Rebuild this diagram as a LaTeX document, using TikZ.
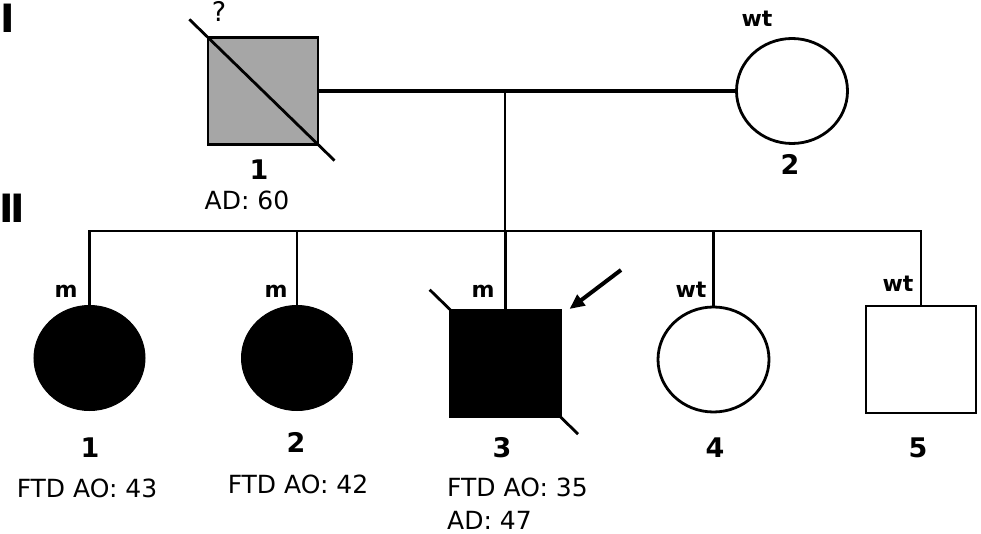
\documentclass[tikz,border=0pt]{standalone}
\usepackage{fontspec}
\setmainfont{DejaVu Sans}
\usetikzlibrary{shapes.geometric,calc,arrows.meta}
\definecolor{pedgray}{RGB}{166,166,166}
\begin{document}
\begin{tikzpicture}[x=1pt,y=-1pt,
 male/.style={rectangle,draw,line width=2.8pt,minimum width=110pt,minimum height=107pt,inner sep=0pt,outer sep=0pt},
 female/.style={ellipse,draw,line width=2.8pt,minimum width=111pt,minimum height=105pt,inner sep=0pt,outer sep=0pt},
 affected/.style={fill=black,line width=1pt},
 link/.style={line width=2.8pt},
 gen/.style={font=\fontsize{39}{42}\selectfont\bfseries,anchor=base,inner sep=0pt},
 geno/.style={font=\fontsize{22}{26}\selectfont\bfseries,anchor=base,inner sep=0pt},
 idn/.style={font=\fontsize{27}{30}\selectfont\bfseries,anchor=base,inner sep=0pt},
 info/.style={font=\fontsize{25}{30}\selectfont,anchor=base,inner sep=0pt},
]
\useasboundingbox (0,0) rectangle (981,534);
\fill[white] (0,0) rectangle (981,534);

% individuals
\node[male,fill=pedgray] (I1) at (263,91) {};
\node[female] (I2) at (792,91) {};
\node[female,affected] (II1) at (89.5,358) {};
\node[female,affected] (II2) at (297,358) {};
\node[male,fill=black] (II3) at (505.5,363.5) {};
\node[female] (II4) at (713.5,359.5) {};
\node[male] (II5) at (921,359.5) {};

% lines of descent
\coordinate (d) at (505,92);
\coordinate (s) at (505,231);
\draw[line width=4pt] (I1.east) -- (I2.west);
\draw[link] (d) -- (s);
\draw[link] (II1.north) -- (II1.north |- s) -- (II5.north |- s) -- (II5.north);
\draw[link] (II2.north) -- (II2.north |- s);
\draw[link] (II3.north) -- (II3.north |- s);
\draw[link] (II4.north) -- (II4.north |- s);

% diagonal on I-1
\draw[link] ($(I1.north west)!-0.17!(I1.south east)$) -- ($(I1.north west)!1.15!(I1.south east)$);
% ticks on II-3
\draw[link] ($(II3.north west)!-0.19!(II3.south east)$) -- (II3.north west);
\draw[link] (II3.south east) -- ($(II3.north west)!1.16!(II3.south east)$);
% proband arrow
\coordinate (arr) at (621,270);
\draw[line width=4pt,-{Triangle[length=15pt,width=13pt]}] (arr) -- ($(II3.north east)+(9,-1)$);

% generation labels
\node[gen] (gI) at (8,33) {I};
\node[gen] (gII) at (12,223) {I\kern-4pt I};

% generation I texts
\node[font=\fontsize{27}{30}\selectfont,anchor=base,inner sep=0pt] (q) at (219,22) {?};
\node[idn] (n11) at (259,180) {1};
\node[info] (ad60) at (247,210) {AD: 60};
\node[geno] (w12) at (757,27) {wt};
\node[idn] (n12) at (790,175) {2};

% generation II texts
\node[geno] (m21) at (66,298) {m};
\node[geno] (m22) at (276,298) {m};
\node[geno] (m23) at (483,298) {m};
\node[geno] (w24) at (691,297) {wt};
\node[geno] (w25) at (898,291) {wt};
\node[idn] (n21) at (90,457) {1};
\node[idn] (n22) at (296,452) {2};
\node[idn] (n23) at (502,457) {3};
\node[idn] (n24) at (715,457) {4};
\node[idn] (n25) at (918,457) {5};
\node[info] (t21) at (87,497) {FTD AO: 43};
\node[info] (t22) at (298,493) {FTD AO: 42};
\node[info,anchor=base west] (t23) at (447,496) {FTD AO: 35};
\node[info,anchor=base west] (t23b) at (447,529) {AD: 47};
\end{tikzpicture}
\end{document}
